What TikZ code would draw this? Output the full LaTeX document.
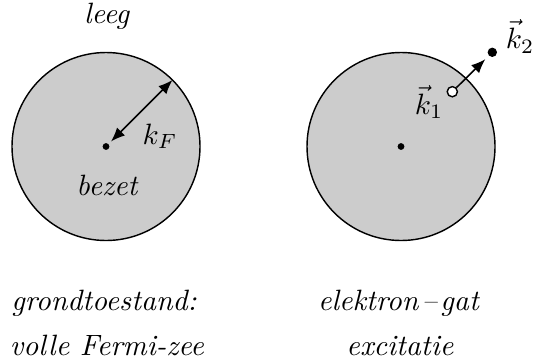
\documentclass[tikz,border=0pt]{standalone}
\usetikzlibrary{arrows.meta,calc}
\begin{document}
\begin{tikzpicture}[x=0.352pt,y=-0.352pt,
  sea/.style={draw=black,line width=0.5pt,fill=black!20},
  cdot/.style={circle,fill=black,inner sep=0pt,minimum size=2.4pt},
  edot/.style={circle,fill=black,inner sep=0pt,minimum size=3.3pt},
  hdot/.style={circle,draw=black,fill=white,line width=0.5pt,inner sep=0pt,minimum size=3.6pt},
  arr/.style={line width=0.55pt,-{Latex[length=5pt,width=4pt]}},
  darr/.style={line width=0.55pt,{Latex[length=5pt,width=4pt]}-{Latex[length=5pt,width=4pt]}},
  lbl/.style={inner sep=0pt,anchor=base,scale=1.035}]
\useasboundingbox (0,0) rectangle (543,363);
% left: ground state
\node[sea,circle,minimum size=188*0.352pt,inner sep=0pt] (fs1) at (106,146.5) {};
\node[cdot] (c1) at (106,146.5) {};
\coordinate (r1) at ($(c1)+(45:94*0.352pt)$);
\coordinate (r0) at ($(c1)+(45:7*0.352pt)$);
\draw[darr] (r0) -- (r1);
\node[lbl] (kf) at (160,144) {$k_F$};
\node[lbl] (leeg) at (107,23) {\textit{leeg}};
\node[lbl] (bezet) at (107.5,195) {\textit{bezet}};
\node[lbl] (g1) at (104,310) {\textit{grondtoestand:}};
\node[lbl] (g2) at (107,355) {\textit{volle Fermi-zee}};
% right: excitation
\node[sea,circle,minimum size=188*0.352pt,inner sep=0pt] (fs2) at (401,146.5) {};
\node[cdot] (c2) at (401,146.5) {};
\node[hdot] (h) at (452.3,91.7) {};
\node[edot] (e) at (492.3,52.3) {};
\draw[arr,shorten >=1.6pt] (h) -- (e);
\node[lbl] (k1) at (429,114) {$\vec{k}_1$};
\node[lbl] (k2) at (520,48.7) {$\vec{k}_2$};
\node[lbl] (x1) at (399,310) {\textit{elektron\kern1.2pt--\kern1.2pt gat}};
\node[lbl] (x2) at (400,355) {\textit{excitatie}};
\end{tikzpicture}
\end{document}
